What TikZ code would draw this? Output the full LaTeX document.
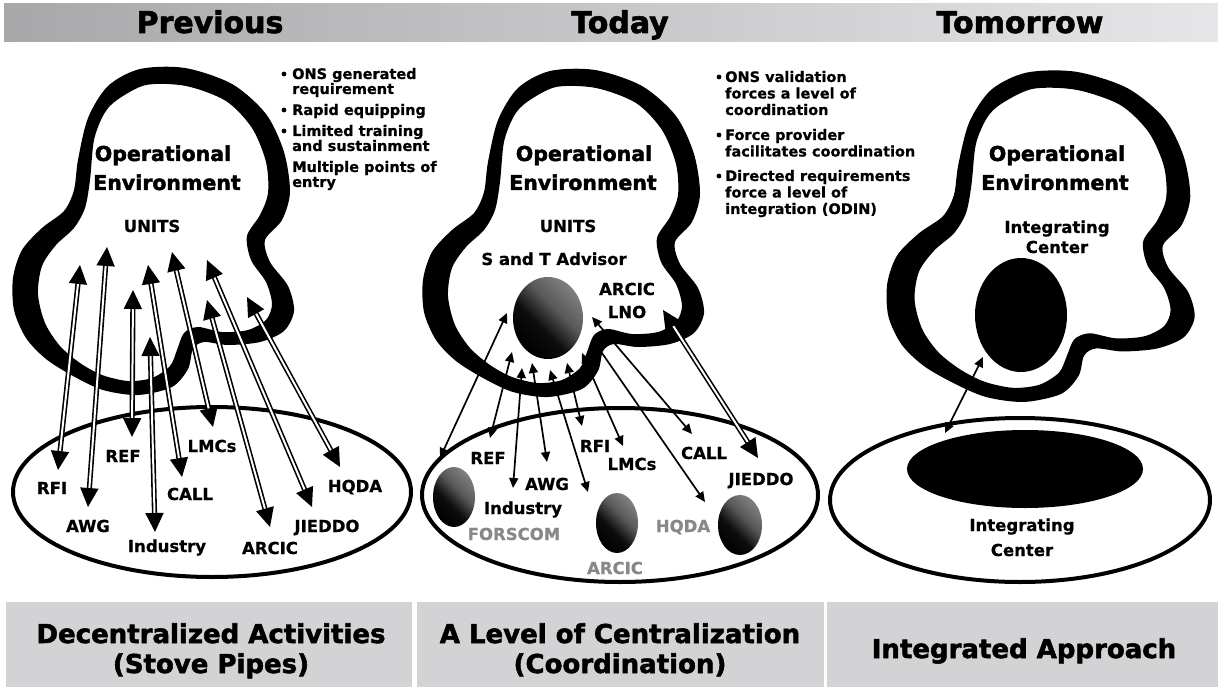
\documentclass[tikz,border=0pt]{standalone}
\usepackage{fontspec}
\setmainfont{DejaVu Sans}
\newfontfamily\heavyfont{DejaVu Sans}[BoldFeatures={FakeBold=2}]
\newfontfamily\demifont{DejaVu Sans}[BoldFeatures={FakeBold=0.7}]
\usetikzlibrary{arrows.meta}

\definecolor{barleft}{HTML}{A8A8AA}
\definecolor{barright}{HTML}{E6E6E8}
\definecolor{boxgray}{HTML}{D3D3D5}
\definecolor{labelgray}{HTML}{888888}

% dark-to-grey diagonal fill used for the organisation "orbs"
\pgfdeclarehorizontalshading{orb}{100bp}{color(0bp)=(black); color(25bp)=(black); color(42bp)=(black!95); color(58bp)=(black!65); color(75bp)=(black!50); color(100bp)=(black!50)}

\newcommand\fsz[2]{\fontsize{#1}{#2}\selectfont}

% thick hand-drawn outline of the operational environment (even-odd band)
\newcommand\envblob{%
  \fill[black, even odd rule]
    plot[smooth cycle, tension=0.5] coordinates {
      (108,86) (140,69) (185,68) (232,84) (266,114) (284,152) (290,192)
      (282,220) (265,240) (270,262) (288,286) (294,311) (284,331) (260,342)
      (228,345) (204,342) (193,349) (188,369) (172,387) (138,395) (103,390)
      (73,376) (46,359) (26,338) (14,310) (13,278) (22,250) (42,228)
      (64,211) (74,190) (78,160) (88,118)}
    plot[smooth cycle, tension=0.5] coordinates {
      (117,100) (146,85) (186,86) (226,101) (252,128) (266,162) (268,193)
      (260,215) (247,236) (251,260) (266,282) (272,304) (266,320) (248,330)
      (222,332) (198,327) (184,333) (177,350) (170,366) (152,378) (128,381)
      (102,375) (80,363) (60,346) (45,323) (38,294) (42,266) (56,245)
      (74,228) (85,208) (90,180) (94,140) (104,114)};}

\begin{document}
\begin{tikzpicture}[x=1pt,y=-1pt,
  hdr/.style={font=\heavyfont\bfseries\fsz{30}{30}, inner sep=0pt, anchor=base},
  foot/.style={font=\heavyfont\bfseries\fsz{26}{30}, inner sep=0pt, anchor=base},
  env/.style={font=\heavyfont\bfseries\fsz{20.5}{24}, inner sep=0pt, anchor=base},
  lbl/.style={font=\demifont\bfseries\fsz{16.5}{18}, inner sep=0pt, anchor=base},
  glbl/.style={lbl, text=labelgray},
  bl/.style={font=\demifont\bfseries\fsz{14.5}{15}, inner sep=0pt, anchor=base west},
  bulletmark/.style={fill=black},
  oval/.style={draw=black, line width=4pt, fill=white},
  dbl/.style={draw=black, line width=1.6pt, double=white, double distance=2pt,
    {Triangle[length=19pt,width=18pt]}-{Triangle[length=19pt,width=18pt]}},
  thin/.style={draw=black, line width=1.7pt,
    {Triangle[length=10pt,width=9pt]}-{Triangle[length=10pt,width=9pt]}},
  orbfill/.style={shading=orb, shading angle=45}
]
\useasboundingbox (0,0) rectangle (1218,687);
\fill[white] (0,0) rectangle (1218,687);

% ---------- title bar and bottom captions ----------
\shade[left color=barleft, right color=barright] (4,4) rectangle (1218,42);
\node[hdr] (tPrev) at (210,33) {Previous};
\node[hdr] (tToday) at (620,33) {Today};
\node[hdr] (tTom) at (1020,33) {Tomorrow};

\fill[boxgray] (6,602) rectangle (412,687);
\fill[boxgray] (417,602) rectangle (824,687);
\fill[boxgray] (827,602) rectangle (1218,687);
\node[foot] (cA1) at (211,643) {Decentralized Activities};
\node[foot] (cA2) at (211,673) {(Stove Pipes)};
\node[foot] (cB1) at (620,643) {A Level of Centralization};
\node[foot] (cB2) at (620,673) {(Coordination)};
\node[foot] (cC1) at (1024,658) {Integrated Approach};

% ---------- lower ovals ----------
\draw[oval] (212,492) ellipse [x radius=199pt, y radius=85pt];
\draw[oval] (620,495) ellipse [x radius=198pt, y radius=87pt];
\draw[oval] (1020,500) ellipse [x radius=190pt, y radius=82pt];

% ---------- environment outlines ----------
\envblob
\begin{scope}[shift={(410,2)}]
  \envblob
\end{scope}
\begin{scope}[shift={(873,3)}, xscale=1.094, yscale=1.01]
  \envblob
\end{scope}

% ---------- bullet lists ----------
\foreach \yy in {74,110,131,167} {\fill[bulletmark] (284,\yy) circle [radius=2.4pt];}
\node[bl] (p1l1) at (292,79) {ONS generated};
\node[bl] (p1l2) at (292,94) {requirement};
\node[bl] (p1l3) at (292,115) {Rapid equipping};
\node[bl] (p1l4) at (292,136) {Limited training};
\node[bl] (p1l5) at (292,151) {and sustainment};
\node[bl] (p1l6) at (292,172) {Multiple points of};
\node[bl] (p1l7) at (292,187) {entry};

\foreach \yy in {77,135,176} {\fill[bulletmark] (719,\yy) circle [radius=2.4pt];}
\node[bl] (p2l1) at (725,82) {ONS validation};
\node[bl] (p2l2) at (725,98.5) {forces a level of};
\node[bl] (p2l3) at (725,115) {coordination};
\node[bl] (p2l4) at (725,140) {Force provider};
\node[bl] (p2l5) at (725,156.5) {facilitates coordination};
\node[bl] (p2l6) at (725,181) {Directed requirements};
\node[bl] (p2l7) at (725,197.5) {force a level of};
\node[bl] (p2l8) at (725,214) {integration (ODIN)};

% ---------- panel 1: previous ----------
\node[env] (oe1a) at (163,161) {Operational};
\node[env] (oe1b) at (167,190) {Environment};
\node[lbl] (units1) at (152,232) {UNITS};

\coordinate (a1t) at (80,265);  \coordinate (a1b) at (58,470);
\coordinate (a2t) at (107,247); \coordinate (a2b) at (88,507);
\coordinate (a3t) at (133,290); \coordinate (a3b) at (132,437);
\coordinate (a4t) at (150,337); \coordinate (a4b) at (155,532);
\coordinate (a5t) at (148,265); \coordinate (a5b) at (182,477);
\coordinate (a6t) at (172,252); \coordinate (a6b) at (213,427);
\coordinate (a7t) at (207,300); \coordinate (a7b) at (270,527);
\coordinate (a8t) at (207,260); \coordinate (a8b) at (312,507);
\coordinate (a9t) at (247,297); \coordinate (a9b) at (340,467);
\foreach \k in {1,...,9} {\draw[dbl] (a\k t) -- (a\k b);}

\node[lbl] (rfi1) at (52,494) {RFI};
\node[lbl] (awg1) at (88,532) {AWG};
\node[lbl] (ref1) at (123,462) {REF};
\node[lbl] (ind1) at (167,552) {Industry};
\node[lbl] (call1) at (190,500) {CALL};
\node[lbl] (lmc1) at (212,452) {LMCs};
\node[lbl] (arc1) at (270,554) {ARCIC};
\node[lbl] (jie1) at (327,532) {JIEDDO};
\node[lbl] (hq1) at (355,492) {HQDA};

% ---------- panel 2: today ----------
\node[env] (oe2a) at (584,161) {Operational};
\node[env] (oe2b) at (583,190) {Environment};
\node[lbl] (units2) at (568,232) {UNITS};
\node[lbl] (sandt) at (554,265) {S and T Advisor};
\node[lbl] (lnoA) at (627,295) {ARCIC};
\node[lbl] (lnoB) at (627,318) {LNO};

\shade[orbfill] (548,318) ellipse [x radius=35pt, y radius=41pt];
\shade[orbfill] (454,497) ellipse [x radius=21pt, y radius=30pt];
\shade[orbfill] (617,523) ellipse [x radius=21pt, y radius=30pt];
\shade[orbfill] (740,525) ellipse [x radius=22pt, y radius=30pt];

\coordinate (b1t) at (507,313); \coordinate (b1b) at (440,458);
\coordinate (b2t) at (512,352); \coordinate (b2b) at (490,438);
\coordinate (b3t) at (522,368); \coordinate (b3b) at (513,488);
\coordinate (b4t) at (532,363); \coordinate (b4b) at (547,462);
\coordinate (b5t) at (550,370); \coordinate (b5b) at (588,492);
\coordinate (b6t) at (567,363); \coordinate (b6b) at (582,426);
\coordinate (b7t) at (582,353); \coordinate (b7b) at (623,446);
\coordinate (b8t) at (592,317); \coordinate (b8b) at (692,434);
\coordinate (b9t) at (593,340); \coordinate (b9b) at (705,502);
\foreach \k in {1,...,9} {\draw[thin] (b\k t) -- (b\k b);}
\coordinate (bJt) at (663,310); \coordinate (bJb) at (758,458);
\draw[dbl] (bJt) -- (bJb);

\node[lbl] (ref2) at (488,464) {REF};
\node[lbl] (awg2) at (547,490) {AWG};
\node[lbl] (ind2) at (523,514) {Industry};
\node[lbl] (rfi2) at (595,452) {RFI};
\node[lbl] (lmc2) at (632,470) {LMCs};
\node[lbl] (call2) at (704,459) {CALL};
\node[lbl] (jie2) at (761,485) {JIEDDO};
\node[glbl] (fors) at (514,540) {FORSCOM};
\node[glbl] (arc2) at (615,574) {ARCIC};
\node[glbl] (hq2) at (683,532) {HQDA};

% ---------- panel 3: tomorrow ----------
\node[env] (oe3a) at (1057,161) {Operational};
\node[env] (oe3b) at (1055,190) {Environment};
\node[lbl] (ic1a) at (1057,233) {Integrating};
\node[lbl] (ic1b) at (1057,253) {Center};
\fill[black] (1021,315) ellipse [x radius=46pt, y radius=57pt];
\fill[black] (1025,469) ellipse [x radius=118pt, y radius=39pt];
\node[lbl] (ic2a) at (1022,531) {Integrating};
\node[lbl] (ic2b) at (1022,556) {Center};
\coordinate (ct) at (983,357); \coordinate (cb) at (945,433);
\draw[thin] (ct) -- (cb);
\end{tikzpicture}
\end{document}
